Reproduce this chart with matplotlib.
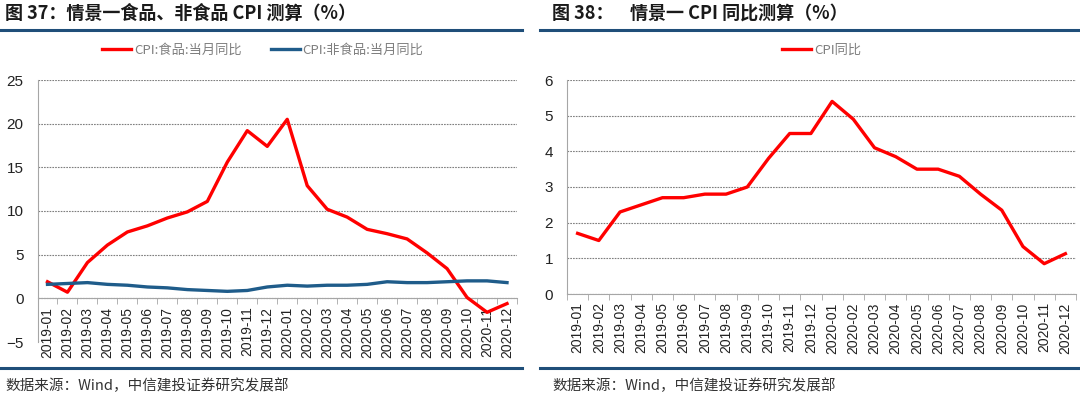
import numpy as np
import matplotlib
matplotlib.use("Agg")
import matplotlib.pyplot as plt
from matplotlib.lines import Line2D

plt.rcParams['font.family'] = ['Liberation Sans', 'Noto Sans CJK SC', 'DejaVu Sans']

months = ["2019-01", "2019-02", "2019-03", "2019-04", "2019-05", "2019-06",
          "2019-07", "2019-08", "2019-09", "2019-10", "2019-11", "2019-12",
          "2020-01", "2020-02", "2020-03", "2020-04", "2020-05", "2020-06",
          "2020-07", "2020-08", "2020-09", "2020-10", "2020-11", "2020-12"]

food = [1.9, 0.7, 4.1, 6.1, 7.6, 8.3, 9.2, 9.9, 11.1, 15.6, 19.2, 17.4,
        20.5, 12.9, 10.2, 9.3, 7.9, 7.4, 6.8, 5.2, 3.4, 0.1, -1.6, -0.6]
nonfood = [1.6, 1.7, 1.8, 1.6, 1.5, 1.3, 1.2, 1.0, 0.9, 0.8, 0.9, 1.3,
           1.5, 1.4, 1.5, 1.5, 1.6, 1.9, 1.8, 1.8, 1.9, 2.0, 2.0, 1.8]
cpi = [1.7, 1.5, 2.3, 2.5, 2.7, 2.7, 2.8, 2.8, 3.0, 3.8, 4.5, 4.5,
       5.4, 4.9, 4.1, 3.85, 3.5, 3.5, 3.3, 2.8, 2.35, 1.33, 0.85, 1.13]

RED = "#FF0000"
BLUE = "#1F5C8A"
NAVY = "#1F4E79"
GRAY = "#A6A6A6"
CJK = ['Noto Sans CJK SC', 'DejaVu Sans']

W, H = 1080, 398
fig = plt.figure(figsize=(W / 100, H / 100), dpi=100)


def px_axes(x0, y0, x1, y1):
    # pixel box (top-left origin) -> figure axes
    return fig.add_axes([x0 / W, 1 - y1 / H, (x1 - x0) / W, (y1 - y0) / H])


def style(ax, ymin, ymax, step):
    # set spine position first: it resets the tick settings
    for s in ["top", "right"]:
        ax.spines[s].set_visible(False)
    ax.spines["left"].set_color(GRAY)
    ax.spines["bottom"].set_color(GRAY)
    ax.spines["bottom"].set_position(("data", 0))

    x = np.arange(len(months))
    ax.set_xlim(-0.5, len(months) - 0.5)
    ax.set_ylim(ymin, ymax)
    ax.set_yticks(np.arange(ymin, ymax + 0.1, step))
    ax.yaxis.grid(True, linestyle=(0, (1.5, 1)), color="#7F7F7F", linewidth=0.8)
    ax.set_axisbelow(True)
    ax.set_xticks(x)
    ax.set_xticklabels(months, rotation=90, fontsize=10, color="#222222")
    ax.set_xticks(np.arange(-0.5, len(months)), minor=True)
    ax.tick_params(axis="x", which="major", length=0, pad=6)
    ax.tick_params(axis="x", which="minor", length=4, direction="out", color=GRAY)
    ax.tick_params(axis="y", length=0, labelsize=11, pad=10, labelcolor="#222222")
    return x


# left chart
ax1 = px_axes(37.5, 80, 517, 342)
x = style(ax1, -5, 25, 5)
ax1.plot(x, food, color=RED, lw=2.4, label="CPI:食品:当月同比", zorder=3)
ax1.plot(x, nonfood, color=BLUE, lw=2.4, label="CPI:非食品:当月同比", zorder=3)
leg1 = ax1.legend(loc="center", bbox_to_anchor=(0.47, 1.115), ncol=2, frameon=False,
                  prop={'family': CJK, 'size': 9.5}, handlelength=2.2, columnspacing=2.2,
                  handletextpad=0.2)
for t in leg1.get_texts():
    t.set_color("#7F7F7F")

# right chart
ax2 = px_axes(567, 80, 1076, 294)
x = style(ax2, 0, 6, 1)
ax2.plot(x, cpi, color=RED, lw=2.4, label="CPI同比", zorder=3)
leg2 = ax2.legend(loc="center", bbox_to_anchor=(0.5, 1.14), frameon=False,
                  prop={'family': CJK, 'size': 9.5}, handlelength=2.2, handletextpad=0.2)
for t in leg2.get_texts():
    t.set_color("#7F7F7F")

# titles, rules and source lines
fig.text(5 / W, 1 - 13 / H, "图 37：情景一食品、非食品 CPI 测算（%）", family=CJK,
         fontsize=13, fontweight="bold", va="center", ha="left", color="#1A1A1A")
fig.text(552 / W, 1 - 13 / H, "图 38：    情景一 CPI 同比测算（%）", family=CJK,
         fontsize=13, fontweight="bold", va="center", ha="left", color="#1A1A1A")
for (a, b) in [(0, 522), (540, 1080)]:
    fig.add_artist(Line2D([a / W, b / W], [1 - 30 / H] * 2, color=NAVY, lw=2.2))
    fig.add_artist(Line2D([a / W, b / W], [1 - 368 / H] * 2, color=NAVY, lw=2.2))
fig.text(5 / W, 1 - 386 / H, "数据来源：Wind，中信建投证券研究发展部", family=CJK,
         fontsize=10.5, style="italic", va="center", ha="left", color="#333333")
fig.text(552 / W, 1 - 386 / H, "数据来源：Wind，中信建投证券研究发展部", family=CJK,
         fontsize=10.5, style="italic", va="center", ha="left", color="#333333")

fig.savefig("out.png", dpi=100)
